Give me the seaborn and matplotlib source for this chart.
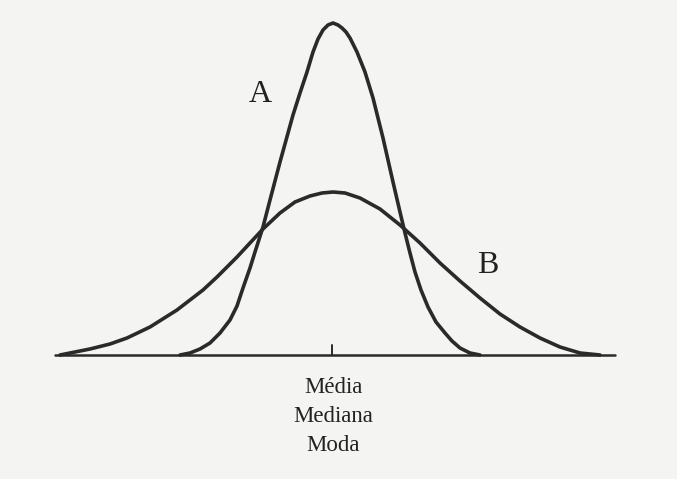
import numpy as np
import pandas as pd
import matplotlib
matplotlib.use('Agg')
import matplotlib.pyplot as plt
import seaborn as sns

# pontos (x em px, altura acima do eixo em px)
xA = [180, 190, 200, 210, 220, 230, 237, 243, 250, 255, 263, 270, 280, 293,
      300, 307, 313, 318, 323, 328, 333, 338, 342, 346, 350, 357, 365, 373,
      383, 393, 400, 405, 410, 415, 421, 428, 436, 445, 452, 460, 470, 480]
yA = [0, 2, 6, 12, 22, 35, 49, 67, 87, 103, 128, 155, 193, 240,
      262, 283, 303, 316, 325, 330, 332, 330, 327, 323, 317, 303, 283, 257,
      217, 173, 143, 122, 102, 83, 65, 48, 33, 22, 14, 7, 2, 0]

xB = [60, 75, 90, 110, 127, 150, 177, 203, 217, 237, 250, 263, 280, 295,
      310, 322, 333, 345, 360, 380, 400, 420, 440, 460, 480, 500, 520, 540,
      560, 580, 600]
yB = [0, 3, 6, 11, 17, 28, 45, 65, 78, 98, 112, 126, 142, 153,
      159, 162, 163, 162, 157, 146, 130, 112, 92, 74, 57, 41, 28, 17,
      8, 2, 0]

curvas = ['A', 'B']
rotulos_eixo = ['Média', 'Mediana', 'Moda']
centro = 332

df = pd.concat([
    pd.DataFrame({'x': xA, 'y': yA, 'curva': 'A'}),
    pd.DataFrame({'x': xB, 'y': yB, 'curva': 'B'}),
])

sns.set_style('white')
plt.rcParams['font.family'] = ['Liberation Serif', 'DejaVu Serif']

fig = plt.figure(figsize=(6.77, 4.79), dpi=100, facecolor='#f4f4f2')
ax = fig.add_axes([0, 0, 1, 1])
ax.set_facecolor('#f4f4f2')

cor = '#2a2a2a'
for c in curvas:
    sns.lineplot(data=df[df.curva == c], x='x', y='y', estimator=None, sort=False,
                 color=cor, linewidth=2.6, ax=ax)
for line in ax.lines:
    line.set_solid_joinstyle('round')
    line.set_solid_capstyle('round')

# eixo horizontal e marca central
ax.plot([55, 615], [0, 0], color=cor, linewidth=1.8)
ax.plot([centro, centro], [0, 10], color=cor, linewidth=1.4)

ax.text(260, 253, 'A', fontsize=23, ha='center', va='baseline', color='#222222')
ax.text(488, 82, 'B', fontsize=23, ha='center', va='baseline', color='#222222')
for i, r in enumerate(rotulos_eixo):
    ax.text(centro + 1, -38 - 29 * i, r, fontsize=16.5, ha='center', va='baseline', color='#222222')

ax.set_xlim(0, 677)
ax.set_ylim(-124, 355)
ax.set_axis_off()

fig.savefig('out.png', dpi=100, facecolor=fig.get_facecolor())
